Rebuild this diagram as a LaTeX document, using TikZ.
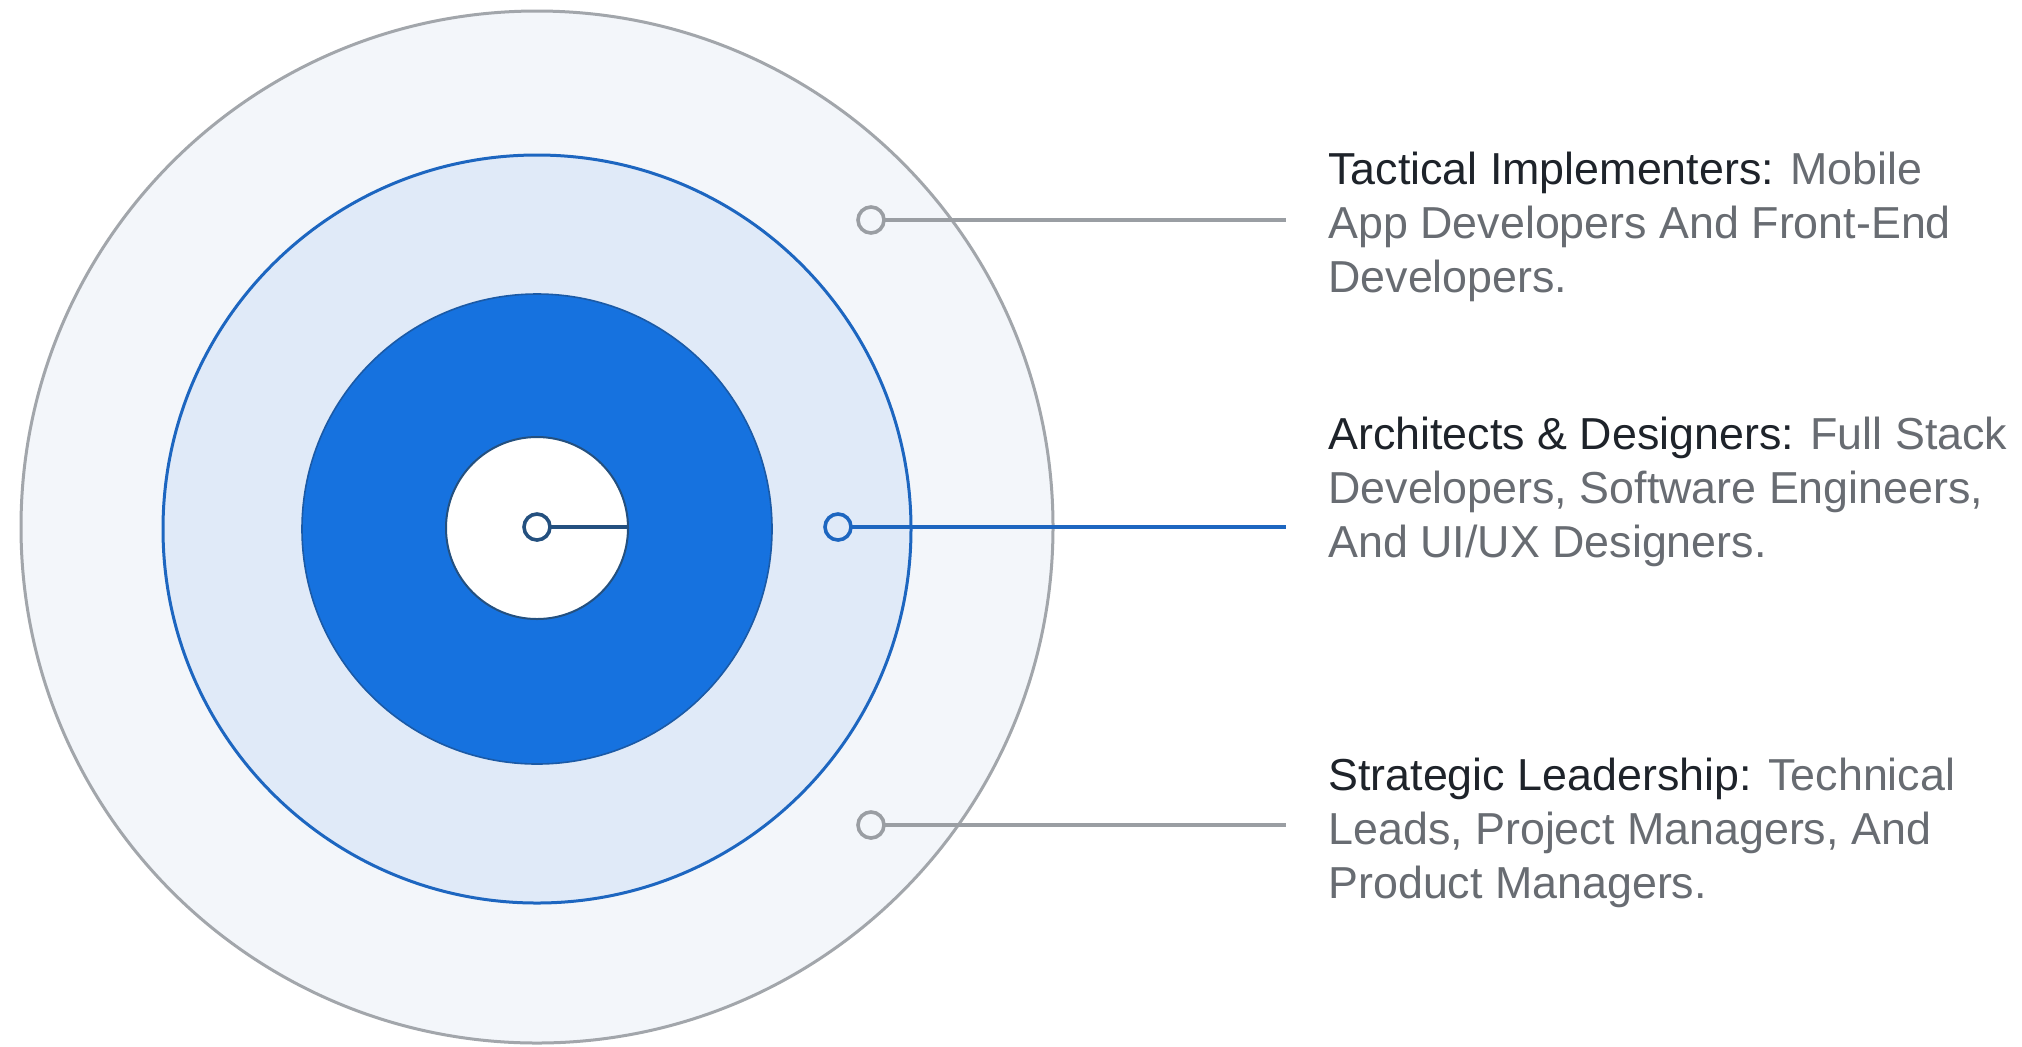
\documentclass[tikz,border=0pt]{standalone}
\usepackage{fontspec}
\setmainfont{Liberation Sans}
\definecolor{outerfill}{HTML}{F3F6FA}
\definecolor{outergray}{HTML}{A2A6AB}
\definecolor{midfill}{HTML}{E0EAF8}
\definecolor{midblue}{HTML}{1D66C0}
\definecolor{corefill}{HTML}{1672DF}
\definecolor{coreedge}{HTML}{1B5AA6}
\definecolor{navy}{HTML}{24507F}
\definecolor{markgray}{HTML}{9A9EA3}
\definecolor{headtxt}{HTML}{1E232A}
\definecolor{bodytxt}{HTML}{686C72}
\begin{document}
\begin{tikzpicture}[x=0.5pt,y=-0.5pt,
  ring/.style={circle, inner sep=0pt, outer sep=0pt},
  marker/.style={circle, inner sep=0pt, outer sep=0pt, minimum size=13pt, line width=1.8pt, fill=white},
  conn/.style={line width=1.6pt},
  label/.style={anchor=west, align=left, inner sep=0pt, font=\fontsize{22.4}{27}\selectfont, text=bodytxt}]
\useasboundingbox[fill=white] (0,0) rectangle (2022,1046);
% rings
\node[ring, fill=outerfill, draw=outergray, line width=1.5pt, minimum size=516pt] (outer) at (537,527) {};
\node[ring, fill=midfill, draw=midblue, line width=1.5pt, minimum size=374pt] (mid) at (537,529) {};
\node[ring, fill=corefill, draw=coreedge, line width=0.8pt, minimum size=235pt] (core) at (537,529) {};
\node[ring, fill=white, draw=navy, line width=1pt, minimum size=91pt] (inner) at (537,528) {};
% markers
\node[marker, draw=navy] (m0) at (537,527) {};
\node[marker, draw=midblue, fill=midfill] (m2) at (838,527) {};
\node[marker, draw=markgray, fill=outerfill] (m1) at (871,220) {};
\node[marker, draw=markgray, fill=outerfill] (m3) at (871,825) {};
% connector ends
\coordinate (e1) at (1286,220);
\coordinate (e2) at (1286,527);
\coordinate (e3) at (1286,825);
\draw[conn, draw=navy] (m0) -- (inner.east |- m0);
\draw[conn, draw=markgray] (m1) -- (e1);
\draw[conn, draw=midblue] (m2) -- (e2);
\draw[conn, draw=markgray] (m3) -- (e3);
% labels
\node[label] (t1) at (1328,227) {{\color{headtxt}Tactical Implementers:} Mobile\\App Developers And Front-End\\Developers.};
\node[label] (t2) at (1328,492) {{\color{headtxt}Architects \& Designers:} Full Stack\\Developers, Software Engineers,\\And UI/UX Designers.};
\node[label] (t3) at (1328,833) {{\color{headtxt}Strategic Leadership:} Technical\\Leads, Project Managers, And\\Product Managers.};
\end{tikzpicture}
\end{document}
